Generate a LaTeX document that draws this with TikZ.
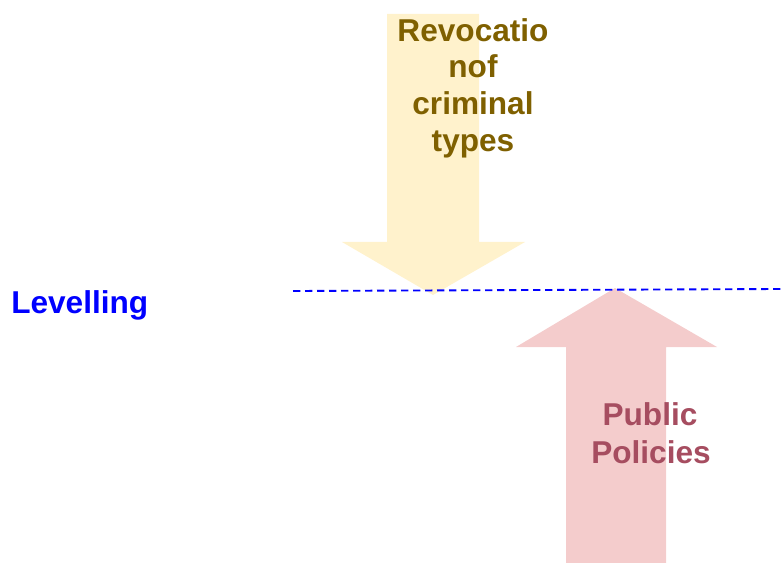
\documentclass[tikz,border=0pt]{standalone}
\usepackage{fontspec}
\setmainfont{Liberation Sans}
\definecolor{yfill}{RGB}{255,242,204}
\definecolor{ytext}{RGB}{127,96,0}
\definecolor{pfill}{RGB}{244,204,204}
\definecolor{ptext}{RGB}{166,77,96}
\definecolor{lblue}{RGB}{0,0,255}
\begin{document}
\begin{tikzpicture}[x=0.75pt,y=-0.75pt,
  lbl/.style={font=\fontsize{23.7pt}{28pt}\selectfont\bfseries, inner sep=0pt, anchor=base},
  ylbl/.style={lbl, text=ytext},
  plbl/.style={lbl, text=ptext},
  level/.style={draw=lblue, line width=1.4pt, dash pattern=on 5.5pt off 3.5pt}]
\useasboundingbox (0,0) rectangle (782,563);
% yellow down arrow
\fill[yfill] (387,14) -- (479,14) -- (479,242) -- (525,242) -- (433,295) -- (342,242) -- (387,242) -- cycle;
% pink up arrow
\fill[pfill] (566,563) -- (666,563) -- (666,347) -- (717,347) -- (615,288) -- (516,347) -- (566,347) -- cycle;
% levelling line
\coordinate (l1) at (293,291);
\coordinate (l2) at (782,289);
\draw[level] (l1) -- (l2);
% labels
\node[ylbl] (r1) at (473,42) {Revocatio};
\node[ylbl] (r2) at (473,78) {nof};
\node[ylbl] (r3) at (473,115) {criminal};
\node[ylbl] (r4) at (473,152) {types};
\node[plbl] (p1) at (650,425) {Public};
\node[plbl] (p2) at (651,463) {Policies};
\node[lbl, text=lblue, anchor=base west] (lev) at (11,313) {Levelling};
\end{tikzpicture}
\end{document}
